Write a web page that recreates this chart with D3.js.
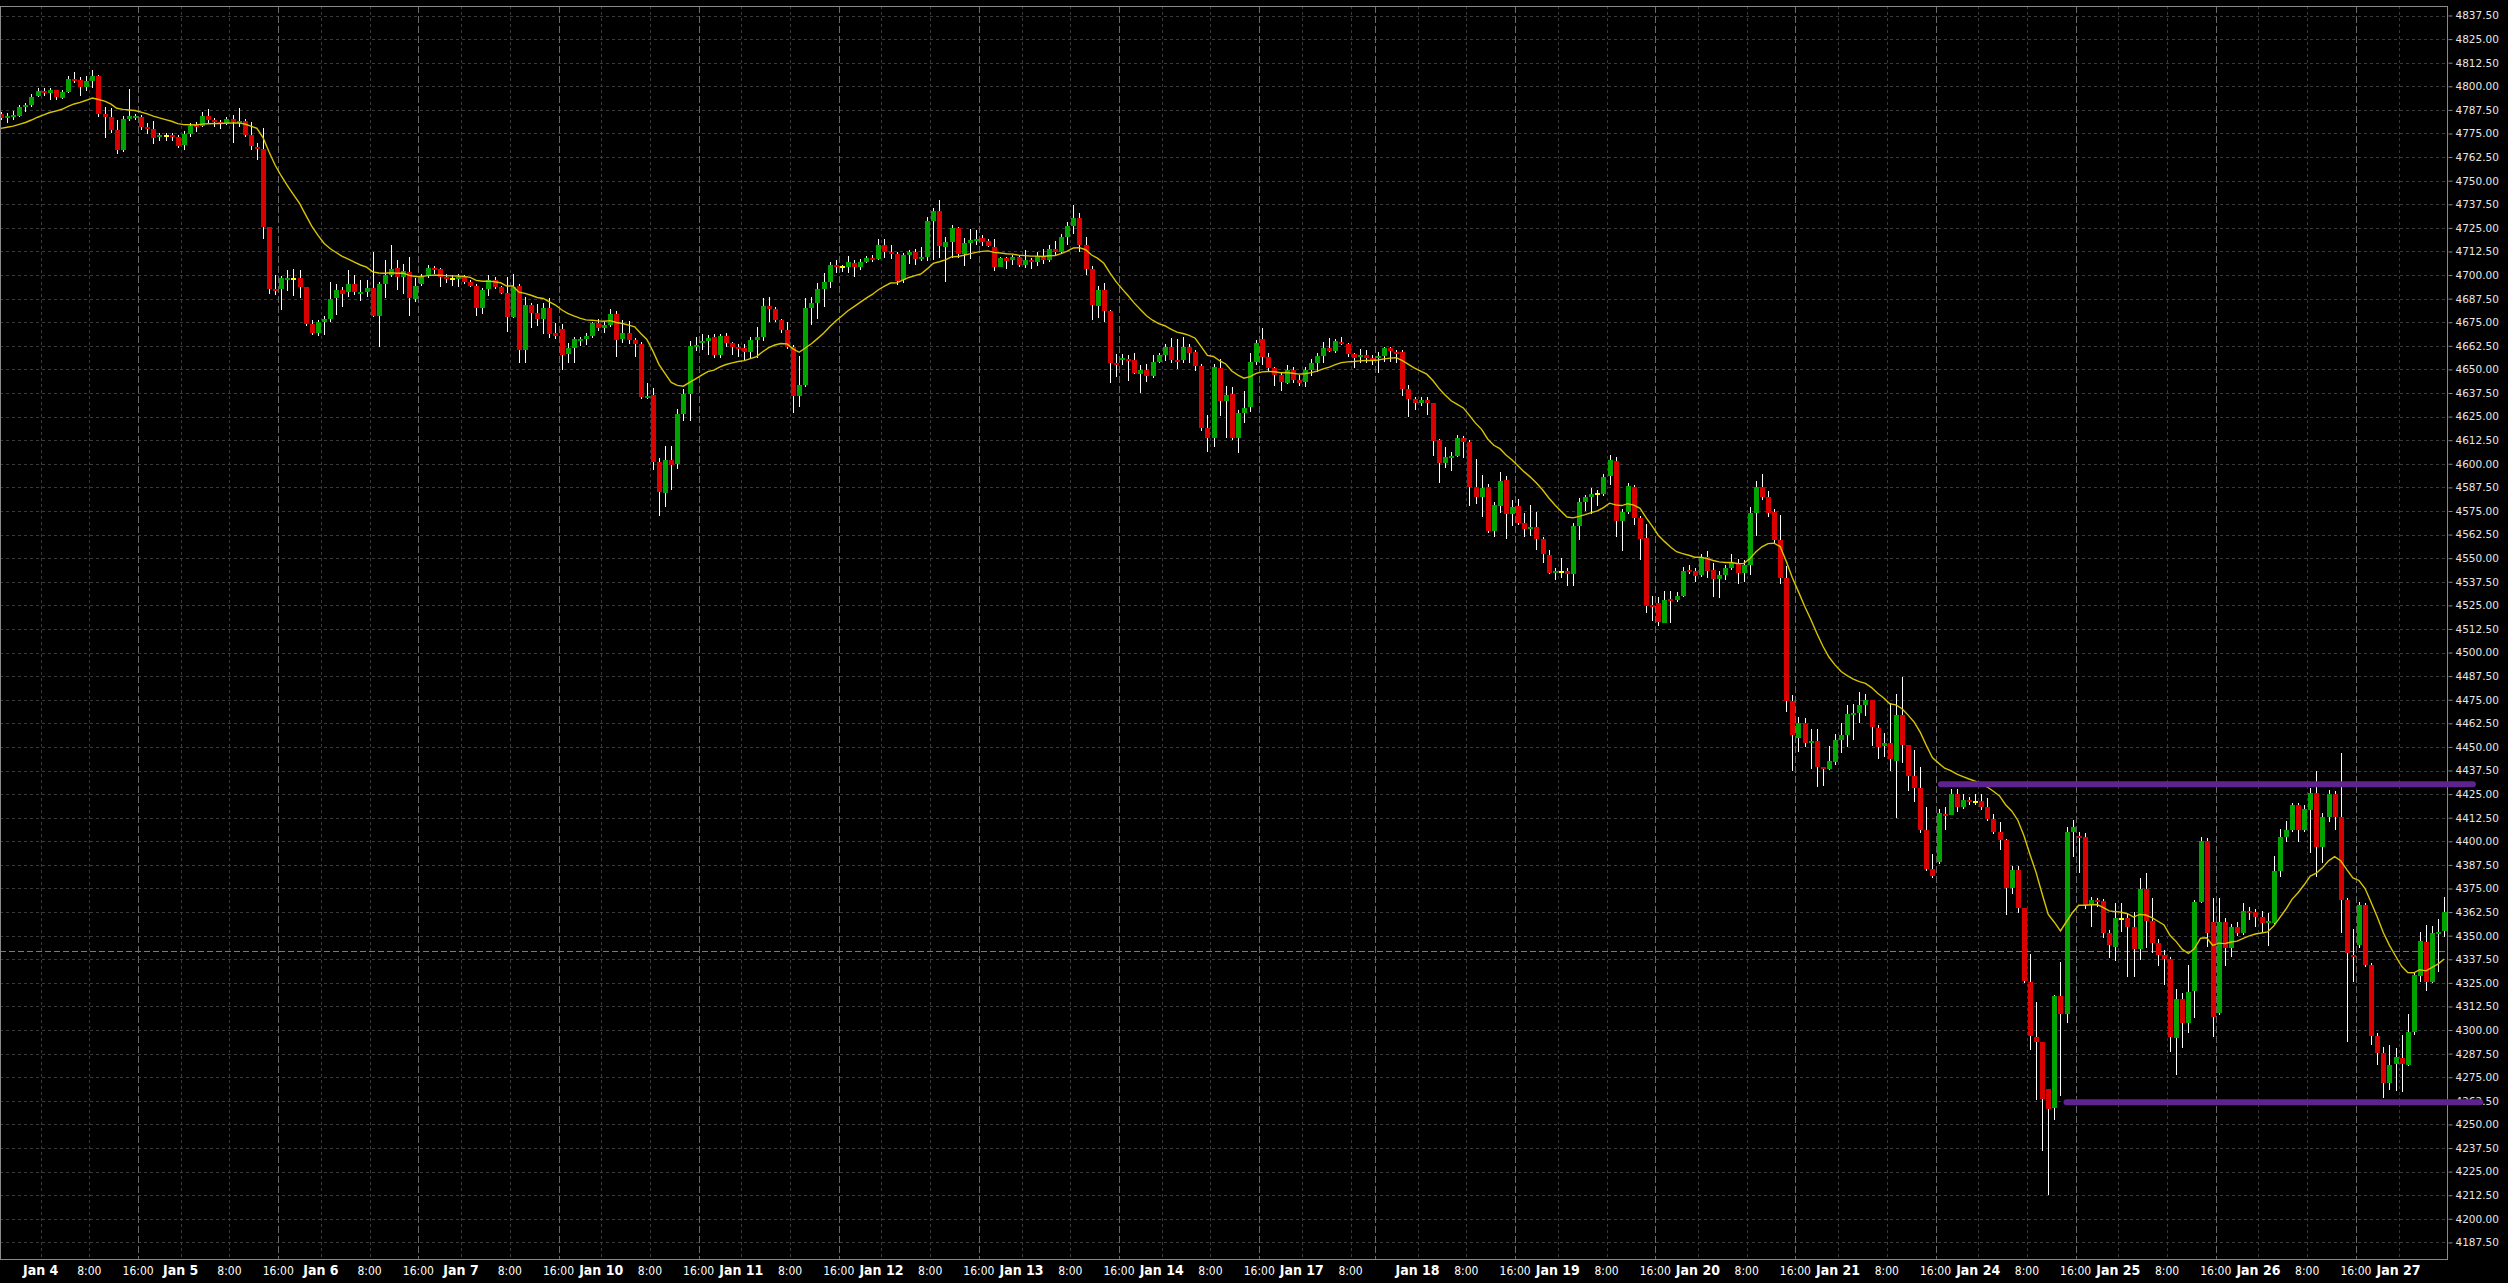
<!DOCTYPE html>
<html><head><meta charset="utf-8">
<script src="https://cdn.jsdelivr.net/npm/d3@7"></script>
<style>html,body{margin:0;padding:0;background:#000;overflow:hidden}svg{display:block}</style>
</head><body><svg id="chart"></svg>
<script>
// ---- DATA (hourly ES bars, Jan 3 17:00 CT .. Jan 27 07:00 CT) ----
const open = [
4785.3,4783.5,4783.7,4784.2,4789.2,4790.0,4794.8,4797.5,4796.6,4798.0,4793.9,4796.9,4803.8,4803.3,4799.6,4802.8,4805.4,4785.3,4783.9,4776.8,
4766.2,4782.6,4783.3,4783.5,4778.2,4777.2,4772.9,4773.9,4774.2,4772.9,4768.8,4774.7,4779.3,4778.9,4784.2,4782.1,4781.2,4780.0,4782.5,4780.7,
4781.6,4774.2,4768.0,4766.7,4725.2,4692.7,4692.4,4697.3,4698.0,4698.4,4693.8,4674.3,4669.4,4675.2,4676.6,4687.9,4692.0,4690.8,4695.5,4690.2,
4691.1,4693.1,4678.4,4695.2,4700.0,4703.5,4698.7,4701.5,4687.4,4695.5,4700.0,4703.7,4703.1,4699.1,4698.0,4697.8,4699.1,4696.4,4694.1,4682.3,
4692.4,4697.6,4693.4,4690.6,4677.9,4694.1,4660.3,4684.1,4680.0,4676.9,4682.7,4669.1,4671.2,4658.2,4661.2,4665.0,4665.9,4667.7,4674.4,4672.1,
4673.5,4679.3,4665.9,4669.1,4665.6,4663.5,4635.0,4636.4,4601.1,4584.7,4602.0,4599.9,4626.4,4637.0,4662.0,4663.8,4665.2,4667.3,4657.6,4667.7,
4664.2,4662.0,4661.3,4659.2,4665.6,4667.3,4683.6,4682.2,4676.2,4670.9,4662.0,4635.9,4641.7,4682.7,4685.0,4692.4,4696.3,4705.3,4704.0,4704.3,
4706.6,4704.1,4706.9,4709.2,4708.5,4715.9,4712.4,4711.1,4697.4,4710.6,4712.4,4708.7,4709.4,4728.6,4733.7,4715.0,4717.7,4724.7,4711.1,4716.8,
4718.2,4719.8,4718.0,4714.7,4704.4,4708.8,4708.0,4709.4,4705.3,4708.0,4707.1,4710.0,4708.0,4714.0,4712.0,4720.0,4726.0,4730.0,4716.0,4703.0,
4683.6,4692.0,4681.0,4653.6,4655.2,4655.5,4655.0,4647.6,4649.7,4646.5,4653.9,4657.6,4662.0,4655.0,4655.0,4662.0,4659.4,4651.8,4618.8,4613.8,
4650.6,4633.4,4636.8,4613.8,4626.7,4629.9,4653.9,4666.0,4656.4,4650.6,4647.0,4643.0,4649.7,4644.4,4643.5,4649.7,4653.6,4657.1,4661.4,4660.0,
4664.5,4663.6,4658.2,4656.6,4657.5,4656.2,4656.2,4657.1,4661.2,4659.4,4659.0,4639.4,4634.5,4632.0,4633.8,4632.0,4612.6,4600.3,4603.4,4604.1,
4613.5,4611.7,4587.9,4582.6,4587.5,4564.6,4577.8,4591.4,4573.2,4577.6,4568.8,4565.6,4566.7,4560.0,4551.7,4542.3,4542.8,4543.2,4541.8,4567.0,
4579.9,4582.6,4583.8,4584.0,4593.5,4601.6,4569.7,4574.4,4587.5,4571.4,4560.5,4525.2,4526.1,4515.8,4528.2,4527.8,4530.0,4543.7,4543.2,4541.1,
4550.4,4543.7,4539.0,4541.1,4545.0,4547.6,4542.0,4546.4,4574.1,4587.5,4582.2,4574.4,4559.6,4539.7,4474.5,4454.5,4462.5,4452.2,4453.1,4439.2,
4438.1,4442.2,4453.7,4456.3,4466.9,4467.8,4472.2,4474.8,4460.2,4450.5,4451.9,4442.7,4466.9,4451.0,4434.6,4428.0,4406.0,4385.1,4389.2,4414.4,
4413.9,4425.0,4418.3,4421.9,4421.0,4421.5,4418.0,4411.6,4405.1,4400.7,4375.1,4384.8,4364.5,4325.6,4296.5,4293.8,4268.7,4258.5,4318.0,4308.5,
4404.8,4402.8,4402.1,4366.6,4368.9,4368.2,4351.2,4344.2,4359.0,4359.2,4354.4,4343.1,4374.5,4357.9,4345.9,4339.8,4337.5,4296.0,4316.3,4303.5,
4320.8,4368.0,4400.3,4357.4,4308.9,4357.4,4343.3,4354.4,4351.6,4363.2,4362.7,4359.7,4356.5,4356.9,4384.4,4402.1,4406.0,4419.2,4406.0,4416.6,
4425.8,4397.1,4413.0,4425.0,4413.0,4368.9,4339.8,4345.0,4366.2,4334.5,4296.8,4287.7,4272.1,4282.0,4285.0,4281.5,4299.1,4328.6,4346.8,4325.6,
4350.9,4352.6];
const high = [
4786.5,4785.6,4787.0,4790.0,4791.3,4795.7,4798.9,4798.9,4799.2,4798.0,4798.0,4805.4,4807.4,4804.7,4805.4,4808.6,4806.0,4788.8,4788.3,4782.1,
4784.2,4798.4,4785.3,4784.7,4780.3,4781.6,4775.0,4775.0,4775.0,4774.2,4776.4,4780.3,4781.2,4786.5,4787.7,4783.3,4782.1,4783.9,4784.7,4788.3,
4782.6,4781.2,4769.7,4777.7,4725.6,4699.8,4699.4,4702.9,4703.3,4702.6,4693.8,4676.1,4676.1,4678.2,4696.4,4695.2,4693.8,4702.6,4699.8,4697.3,
4697.6,4712.1,4696.4,4708.2,4715.8,4707.9,4706.1,4709.3,4698.2,4700.5,4705.1,4704.9,4703.5,4700.8,4699.8,4700.8,4699.8,4697.3,4695.0,4692.9,
4699.8,4698.7,4694.1,4698.7,4700.8,4695.2,4688.5,4685.0,4684.5,4685.0,4687.6,4674.4,4673.9,4664.2,4667.3,4667.3,4669.1,4675.3,4676.6,4675.3,
4681.8,4681.1,4676.2,4675.8,4666.5,4664.7,4643.0,4640.0,4602.9,4609.4,4609.4,4628.8,4639.4,4665.2,4667.3,4668.8,4668.1,4668.6,4668.6,4669.1,
4664.7,4663.5,4663.5,4667.3,4672.6,4687.6,4688.5,4682.9,4676.6,4675.3,4662.9,4657.1,4687.6,4688.2,4696.0,4701.3,4707.0,4708.0,4705.3,4710.0,
4708.0,4708.3,4710.1,4710.4,4718.9,4718.9,4715.9,4712.4,4711.5,4713.3,4713.6,4714.7,4730.9,4735.3,4739.8,4720.3,4726.5,4725.3,4719.4,4724.2,
4723.9,4721.2,4718.9,4718.9,4709.7,4709.4,4710.6,4710.6,4713.3,4708.9,4712.0,4714.0,4716.0,4718.0,4722.0,4728.0,4737.0,4733.0,4720.0,4705.0,
4694.0,4696.0,4681.5,4658.2,4658.2,4657.6,4658.5,4652.3,4652.9,4657.6,4658.5,4663.5,4666.8,4666.3,4667.3,4663.5,4660.3,4652.9,4625.8,4652.9,
4655.3,4641.2,4640.5,4628.5,4638.7,4658.5,4665.6,4671.8,4658.5,4651.5,4648.3,4652.3,4651.1,4647.0,4651.1,4655.3,4658.9,4664.7,4666.5,4666.0,
4667.3,4664.1,4658.9,4660.6,4660.3,4657.6,4659.4,4662.0,4662.0,4660.3,4660.3,4641.7,4635.5,4635.5,4635.5,4632.4,4613.0,4609.1,4606.4,4615.3,
4614.7,4612.6,4602.4,4594.1,4589.3,4580.0,4595.5,4593.5,4580.8,4581.2,4573.8,4578.2,4574.6,4561.4,4554.3,4544.6,4549.9,4544.6,4568.8,4581.7,
4583.5,4587.0,4586.1,4594.6,4604.5,4603.8,4575.9,4589.6,4588.8,4572.3,4568.1,4530.0,4529.2,4532.6,4532.6,4532.2,4545.1,4546.4,4544.6,4552.0,
4554.0,4547.3,4543.2,4546.4,4552.2,4549.4,4549.0,4576.9,4591.1,4594.6,4585.8,4575.9,4572.9,4545.8,4477.5,4465.7,4465.1,4459.3,4459.3,4439.2,
4450.5,4456.8,4462.8,4472.2,4472.6,4479.3,4478.0,4475.1,4461.6,4457.2,4473.1,4478.0,4487.2,4451.0,4448.4,4439.5,4418.0,4393.3,4416.9,4418.3,
4427.5,4427.5,4425.0,4423.6,4425.0,4425.0,4422.8,4414.3,4410.4,4401.0,4386.9,4386.9,4364.8,4340.3,4315.0,4293.8,4269.0,4318.5,4335.9,4407.8,
4411.3,4405.1,4404.2,4370.7,4369.8,4369.2,4353.0,4367.1,4367.5,4362.2,4362.7,4380.4,4383.0,4369.8,4348.0,4342.4,4338.5,4321.6,4319.8,4334.4,
4368.9,4402.4,4401.6,4369.8,4369.8,4359.2,4356.2,4357.4,4367.1,4365.0,4364.3,4363.2,4361.8,4392.2,4406.3,4410.9,4420.5,4420.1,4419.2,4428.0,
4437.4,4414.8,4427.2,4426.8,4446.6,4369.8,4353.3,4368.0,4367.5,4335.4,4298.2,4291.2,4292.1,4290.3,4297.4,4308.5,4330.4,4352.1,4355.6,4355.1,
4358.6,4370.7];
const low = [
4782.1,4780.7,4782.1,4783.5,4786.5,4789.2,4794.1,4794.8,4792.7,4792.7,4793.0,4796.6,4801.9,4794.8,4797.6,4798.9,4783.9,4772.7,4775.0,4764.1,
4765.3,4781.6,4782.1,4776.8,4774.5,4769.6,4771.0,4771.0,4771.0,4767.1,4766.2,4772.9,4775.9,4778.2,4780.7,4778.2,4777.2,4779.4,4770.1,4778.6,
4773.3,4766.5,4760.9,4719.0,4690.2,4689.3,4681.4,4691.6,4688.8,4687.7,4672.9,4668.0,4667.6,4668.3,4675.2,4678.7,4683.2,4688.5,4689.2,4686.3,
4688.5,4677.9,4662.0,4687.9,4699.1,4692.0,4689.9,4678.2,4685.8,4694.1,4698.2,4700.8,4693.8,4695.9,4694.1,4693.8,4695.5,4693.4,4678.2,4679.6,
4688.8,4692.4,4689.9,4669.9,4677.5,4653.5,4653.5,4671.8,4673.0,4668.6,4666.5,4665.9,4649.7,4653.6,4653.6,4662.4,4662.9,4666.5,4670.5,4669.5,
4672.3,4656.4,4664.2,4663.5,4656.4,4634.1,4634.1,4596.7,4572.5,4577.3,4586.1,4597.1,4622.8,4622.8,4659.5,4660.3,4657.5,4656.2,4656.0,4662.0,
4657.6,4656.8,4655.0,4655.9,4656.2,4665.2,4675.3,4675.3,4669.5,4660.6,4627.1,4629.9,4640.5,4673.5,4676.5,4683.2,4693.0,4701.2,4701.8,4701.2,
4699.1,4702.7,4706.2,4707.1,4707.9,4708.8,4708.3,4694.7,4696.0,4705.8,4705.3,4707.6,4707.6,4708.0,4708.8,4696.5,4708.8,4708.8,4704.8,4708.3,
4715.9,4715.4,4714.7,4702.1,4704.1,4703.2,4705.3,4704.0,4703.9,4703.2,4705.0,4706.0,4707.0,4710.0,4711.0,4716.0,4722.0,4712.0,4700.0,4676.2,
4677.1,4675.3,4642.6,4646.2,4652.3,4644.0,4647.6,4637.7,4643.5,4645.3,4653.2,4654.6,4653.2,4650.0,4653.6,4653.2,4649.3,4617.5,4606.4,4609.1,
4625.3,4613.8,4612.6,4605.9,4621.4,4627.6,4652.3,4652.3,4648.8,4641.2,4638.7,4642.1,4643.0,4641.2,4640.5,4646.5,4648.8,4653.6,4659.4,4658.9,
4663.0,4656.8,4650.6,4653.6,4653.2,4652.3,4647.9,4653.9,4654.1,4653.6,4636.0,4625.0,4628.5,4630.6,4625.8,4604.1,4590.0,4597.9,4596.3,4603.8,
4603.2,4577.6,4578.7,4572.0,4563.5,4561.0,4573.8,4560.0,4567.0,4567.4,4561.4,4561.7,4554.3,4547.3,4541.6,4538.4,4539.7,4535.2,4535.2,4559.6,
4575.2,4573.4,4577.6,4582.9,4588.8,4561.4,4554.0,4573.4,4567.6,4549.0,4521.1,4516.9,4514.1,4515.5,4515.8,4527.0,4529.2,4541.6,4537.5,4540.2,
4539.3,4529.2,4528.7,4538.4,4543.7,4536.3,4537.5,4541.1,4561.7,4580.8,4572.0,4558.2,4536.3,4468.7,4437.4,4447.5,4449.8,4438.1,4428.9,4429.3,
4437.8,4440.4,4446.9,4449.8,4453.7,4462.8,4466.4,4450.5,4443.4,4444.5,4437.4,4412.2,4441.3,4426.8,4421.0,4404.6,4384.4,4380.4,4388.0,4406.0,
4413.9,4415.7,4416.9,4419.0,4419.2,4416.6,4410.9,4403.9,4395.4,4360.9,4372.1,4361.8,4324.7,4289.4,4262.9,4236.0,4212.75,4252.4,4265.2,4303.5,
4391.5,4383.0,4364.1,4354.8,4365.4,4348.6,4338.0,4336.7,4352.1,4328.3,4328.3,4337.1,4343.3,4340.6,4333.9,4323.8,4288.5,4276.2,4290.3,4298.2,
4306.2,4367.1,4343.8,4296.5,4307.9,4333.9,4338.5,4349.8,4350.4,4358.3,4354.8,4351.2,4344.5,4356.2,4381.2,4399.8,4405.1,4399.8,4405.1,4393.9,
4381.2,4388.7,4410.4,4406.0,4351.2,4293.8,4325.6,4343.3,4333.6,4292.0,4281.5,4263.8,4268.2,4267.9,4267.4,4280.9,4297.4,4325.6,4320.8,4324.8,
4330.9,4349.4];
const close = [
4783.2,4784.2,4784.6,4788.8,4790.0,4794.5,4797.6,4796.6,4798.0,4794.1,4796.9,4803.8,4803.0,4799.8,4802.8,4805.4,4785.3,4783.9,4776.8,4766.2,
4782.6,4784.2,4784.2,4778.2,4777.2,4772.7,4774.0,4773.9,4773.3,4768.3,4774.7,4778.9,4778.2,4784.2,4782.1,4781.2,4780.3,4782.5,4781.2,4781.6,
4774.2,4768.3,4766.7,4725.6,4692.7,4691.8,4698.4,4698.4,4698.0,4693.8,4674.0,4669.4,4675.2,4676.6,4687.2,4692.0,4690.2,4695.2,4691.1,4691.1,
4693.1,4678.4,4695.2,4700.0,4703.1,4698.7,4702.2,4687.6,4694.1,4699.4,4703.7,4702.6,4699.1,4698.0,4698.0,4699.1,4696.4,4694.3,4682.6,4692.0,
4697.6,4693.4,4690.6,4677.9,4693.8,4660.3,4684.1,4680.0,4676.9,4682.7,4668.8,4667.9,4657.8,4661.2,4665.9,4665.9,4667.7,4674.4,4672.1,4673.5,
4679.3,4665.6,4669.1,4665.6,4663.5,4635.2,4635.9,4601.1,4585.2,4602.0,4599.4,4626.4,4637.0,4662.4,4662.9,4665.0,4666.6,4657.6,4667.7,4664.2,
4662.0,4661.0,4659.2,4665.6,4667.3,4683.6,4682.2,4676.2,4670.9,4662.0,4635.9,4641.7,4682.7,4685.0,4692.4,4696.3,4705.3,4704.3,4704.0,4706.9,
4704.1,4707.1,4709.0,4708.3,4715.9,4712.4,4711.1,4697.0,4710.6,4712.4,4708.6,4709.4,4728.6,4733.7,4715.6,4717.7,4724.7,4711.1,4716.8,4718.6,
4719.1,4717.7,4715.4,4704.4,4708.8,4707.4,4709.4,4705.3,4708.0,4707.1,4710.0,4708.0,4714.0,4712.0,4720.0,4726.0,4730.0,4716.0,4703.0,4684.1,
4692.0,4681.1,4653.6,4652.3,4655.9,4654.6,4647.9,4649.7,4646.5,4653.9,4657.6,4662.0,4655.0,4654.1,4662.0,4658.9,4652.0,4618.8,4613.8,4651.5,
4633.4,4636.4,4613.8,4626.7,4629.4,4653.9,4664.2,4656.8,4650.9,4647.0,4643.3,4649.7,4644.4,4643.0,4649.7,4653.6,4657.1,4661.4,4660.0,4665.0,
4663.6,4658.2,4656.2,4657.5,4656.2,4655.3,4657.1,4661.2,4659.6,4658.5,4639.4,4634.5,4632.0,4633.8,4632.0,4612.2,4600.3,4603.4,4604.1,4613.5,
4611.7,4587.9,4582.6,4587.0,4564.6,4578.2,4590.9,4573.2,4576.9,4568.8,4565.6,4566.7,4560.0,4552.0,4542.3,4543.2,4542.8,4541.8,4567.0,4579.9,
4582.2,4584.0,4583.8,4592.8,4601.8,4569.7,4574.4,4588.2,4571.4,4560.1,4524.8,4524.1,4516.3,4527.8,4527.3,4530.0,4543.2,4542.8,4540.5,4550.4,
4543.2,4539.0,4541.1,4545.0,4547.6,4542.0,4546.4,4573.7,4587.5,4582.2,4574.1,4559.6,4539.7,4474.5,4456.3,4462.5,4451.9,4453.1,4439.2,4438.1,
4442.5,4453.7,4456.3,4467.4,4467.8,4472.2,4474.8,4460.7,4450.1,4451.9,4443.4,4466.9,4451.0,4434.6,4428.0,4406.0,4385.1,4381.6,4414.8,4413.4,
4425.0,4418.3,4421.9,4420.8,4421.0,4418.0,4411.6,4405.1,4400.7,4375.1,4384.8,4364.5,4326.2,4297.0,4293.8,4263.5,4258.2,4318.0,4308.5,4405.1,
4407.8,4402.1,4366.2,4368.9,4367.8,4351.2,4344.9,4359.2,4359.0,4354.4,4343.1,4374.5,4357.9,4345.9,4339.8,4337.5,4296.5,4316.3,4303.5,4320.3,
4368.0,4400.3,4351.2,4306.7,4357.4,4343.3,4354.4,4351.6,4363.2,4362.3,4359.7,4356.5,4357.8,4384.4,4402.1,4406.0,4419.2,4406.0,4416.9,4425.8,
4397.1,4413.0,4425.0,4413.0,4368.9,4340.6,4338.9,4366.2,4334.5,4296.8,4287.7,4272.1,4281.5,4285.5,4281.8,4299.1,4329.2,4347.3,4325.6,4351.2,
4352.1,4362.7];

// session days: label and bar index of that day's 00:00 bar
const dayLabels = ["Jan 4","Jan 5","Jan 6","Jan 7","Jan 10","Jan 11","Jan 12","Jan 13","Jan 14","Jan 17","Jan 18","Jan 19","Jan 20","Jan 21","Jan 24","Jan 25","Jan 26","Jan 27"];
const dayBars   = [7,30,53,76,99,122,145,168,191,214,233,256,279,302,325,348,371,394];
// intraday marks: 8:00 bar and session-open bar ("16:00"); null = not labelled
const morningBars = [15,38,61,84,107,130,153,176,199,222,241,264,287,310,333,356,379,402];
const sessionBars = [0,23,46,69,92,115,138,161,184,207,226,249,272,295,318,341,364,387];
const sessionText = [null,"16:00","16:00","16:00","16:00","16:00","16:00","16:00","16:00","16:00",null,"16:00","16:00","16:00","16:00","16:00","16:00","16:00"];

const priceTicks = d3.range(4187.5, 4837.5 + 0.01, 12.5);
const maPeriod = 20;          // exponential moving average period
const maStart = 4777.7;       // MA value read at the first bar
const levels = [{price: 4430.25, from: 318.4, to: 405.7}, {price: 4261.75, from: 339.0, to: 406.9}];
const crossPrice = 4341.9;

// ---- DRAW ----
const W = 2508, H = 1283;
const plotL = 0, plotR = 2448, plotT = 6, plotB = 1259;
const N = close.length;
const svg = d3.select("#chart").attr("width", W).attr("height", H).style("background", "#000");

const x = d3.scaleLinear().domain([0, N - 1]).range([1, 1 + (N - 1) * 6.093]);
const y = d3.scaleLinear().domain([4187.5, 4837.5]).range([1242.4, 15.5]);

svg.append("defs").append("clipPath").attr("id", "plot")
  .append("rect").attr("x", plotL).attr("y", plotT).attr("width", plotR - plotL).attr("height", plotB - plotT);

const grid = svg.append("g").attr("clip-path", "url(#plot)").attr("shape-rendering", "crispEdges");
grid.selectAll("line.h").data(priceTicks).join("line").attr("class", "h")
  .attr("x1", plotL).attr("x2", plotR)
  .attr("y1", d => Math.round(y(d)) + 0.5).attr("y2", d => Math.round(y(d)) + 0.5)
  .attr("stroke", "#3a3a3a").attr("stroke-dasharray", "3,3");
const vLines = [].concat(
  dayBars.map(b => ({b, s: false})),
  morningBars.map(b => ({b, s: false})),
  sessionBars.map(b => ({b, s: true})));
grid.selectAll("line.v").data(vLines).join("line").attr("class", "v")
  .attr("x1", d => Math.round(x(d.b - 0.5)) + 0.5).attr("x2", d => Math.round(x(d.b - 0.5)) + 0.5)
  .attr("y1", plotT).attr("y2", plotB)
  .attr("stroke", d => d.s ? "#6a6a6a" : "#3a3a3a")
  .attr("stroke-dasharray", d => d.s ? "7,3" : "3,3");

// crosshair price line
grid.append("line").attr("x1", plotL).attr("x2", plotR)
  .attr("y1", Math.round(y(crossPrice)) + 0.5).attr("y2", Math.round(y(crossPrice)) + 0.5)
  .attr("stroke", "#7a7a7a").attr("stroke-dasharray", "6,3");

// candles
const bars = d3.range(N);
const cg = svg.append("g").attr("clip-path", "url(#plot)").attr("shape-rendering", "crispEdges");
cg.selectAll("line.w").data(bars).join("line").attr("class", "w")
  .attr("x1", i => Math.round(x(i)) + 0.5).attr("x2", i => Math.round(x(i)) + 0.5)
  .attr("y1", i => y(high[i])).attr("y2", i => y(low[i]))
  .attr("stroke", "#ffffff").attr("stroke-width", 1);
cg.selectAll("rect.b").data(bars).join("rect").attr("class", "b")
  .attr("x", i => Math.round(x(i)) - 2)
  .attr("width", 5)
  .attr("y", i => { const t = y(Math.max(open[i], close[i])); const h = Math.abs(y(open[i]) - y(close[i])); return h < 2 ? t + h / 2 - 1 : t; })
  .attr("height", i => Math.max(2, Math.abs(y(open[i]) - y(close[i]))))
  .attr("fill", i => close[i] > open[i] ? "#00a300" : (close[i] < open[i] ? "#d90000" : "#ffff00"));

// moving average of closes
const alpha = 2 / (maPeriod + 1);
const ma = [];
close.forEach((c, i) => ma.push(i === 0 ? maStart : ma[i - 1] + alpha * (c - ma[i - 1])));
svg.append("path").attr("clip-path", "url(#plot)")
  .datum(bars)
  .attr("d", d3.line().x(i => x(i)).y(i => y(ma[i])))
  .attr("fill", "none").attr("stroke", "#d9c400").attr("stroke-width", 1.4);

// frame
svg.append("rect").attr("x", plotL + 0.5).attr("y", plotT + 0.5).attr("width", plotR - plotL - 1).attr("height", plotB - plotT)
  .attr("fill", "none").attr("stroke", "#8a8a8a").attr("shape-rendering", "crispEdges");

// price axis
const yAxis = d3.axisRight(y).tickValues(priceTicks).tickFormat(d3.format(".2f")).tickSize(4).tickSizeOuter(0).tickPadding(3);
const ax = svg.append("g").attr("transform", `translate(${plotR + 0.5},0)`).call(yAxis);
ax.select(".domain").remove();
ax.selectAll(".tick line").attr("stroke", "#8a8a8a");
ax.selectAll(".tick text").attr("fill", "#e6e6e6").style("font-family", "'DejaVu Sans', Verdana, sans-serif").style("font-size", "10.5px");

// time axis labels
const tl = [];
dayLabels.forEach((t, k) => tl.push({b: dayBars[k], t, bold: true}));
morningBars.forEach(b => { if (b < N) tl.push({b, t: "8:00", bold: false}); });
sessionBars.forEach((b, k) => { if (sessionText[k]) tl.push({b, t: sessionText[k], bold: false}); });
svg.append("g").selectAll("text").data(tl).join("text")
  .attr("x", d => x(d.b - 0.5)).attr("y", 1275)
  .attr("text-anchor", "middle")
  .attr("fill", "#ffffff")
  .style("font-family", "'Liberation Sans Narrow', 'DejaVu Sans Condensed', 'Liberation Sans', sans-serif")
  .style("font-weight", d => d.bold ? "bold" : "normal")
  .style("font-size", d => d.bold ? "14px" : "12px")
  .text(d => d.t);

// horizontal level lines
svg.append("g").selectAll("line").data(levels).join("line")
  .attr("x1", d => x(d.from)).attr("x2", d => x(d.to))
  .attr("y1", d => y(d.price)).attr("y2", d => y(d.price))
  .attr("stroke", "#5f238f").attr("stroke-width", 6).attr("stroke-linecap", "round");
</script></body></html>
